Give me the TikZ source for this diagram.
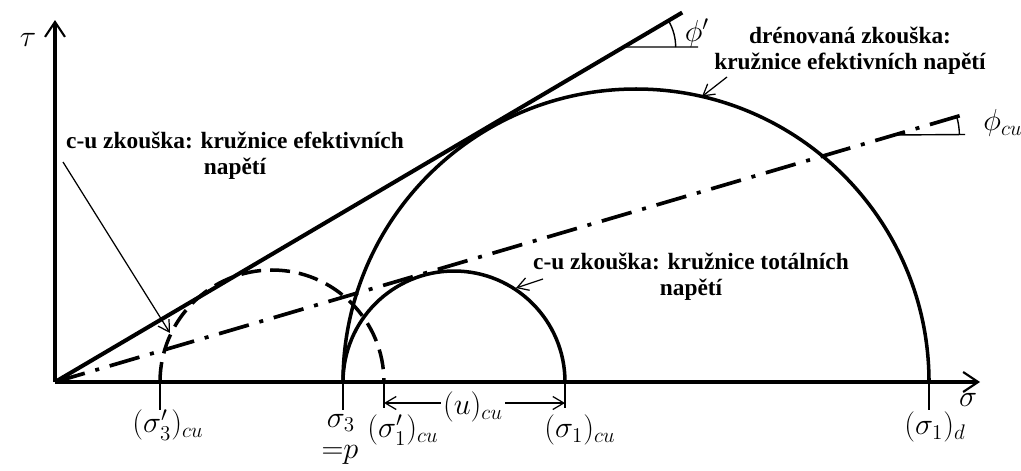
\documentclass[tikz,border=0pt]{standalone}
\usepackage{fontspec}
\setmainfont{Liberation Serif}
\usepackage{amsmath}
\usepackage{tikz}
\usetikzlibrary{arrows.meta, positioning}

\begin{document}
\begin{tikzpicture}[
  note/.style={align=center, font=\fontsize{13.3}{15}\selectfont\bfseries},
  sym/.style={font=\fontsize{17}{19}\selectfont, inner sep=1pt},
  circ/.style={line width=2pt},
  axisline/.style={line width=2.3pt, -{Straight Barb[length=3mm, width=4mm, line width=1.2pt]}},
  thinarrow/.style={line width=0.7pt, ->},
  tick/.style={line width=0.8pt},
  dashdot/.style={line width=2.1pt, dash pattern=on 0.62cm off 0.22cm on 0.08cm off 0.22cm},
  >={Straight Barb[length=2.2mm, width=2.6mm]}
]
\useasboundingbox (-1.1,-1.76) rectangle (19.32,7.64);

% axes
\coordinate (O) at (0,0);
\coordinate (tauend) at (0,7.24);
\coordinate (sigend) at (18.5,0);
\draw[axisline] (O) -- (tauend);
\draw[axisline] (O) -- (sigend);
\node[sym] (tau) at (-0.54,6.84) {$\tau$};
\node[sym] (sig) at (18.26,-0.36) {$\sigma$};

% points on the sigma axis
\coordinate (s3c) at (2.1,0);
\coordinate (s3)  at (5.76,0);
\coordinate (s1c) at (6.58,0);
\coordinate (s1t) at (10.2,0);
\coordinate (s1d) at (17.48,0);

% Mohr circles
\draw[circ] (s3) arc[start angle=180, end angle=0, radius=5.86];
\draw[circ] (s3) arc[start angle=180, end angle=0, radius=2.22];
\draw[circ, dash pattern=on 0.4cm off 0.18cm] (s3c) arc[start angle=180, end angle=0, radius=2.24];

% envelopes
\coordinate (pv) at (30.5:13.2);
\coordinate (pend) at (30.5:14.56);
\draw[line width=2.3pt] (O) -- (pend);
\coordinate (cv) at (16.4:17.5);
\coordinate (cend) at (16.4:18.98);
\draw[dashdot] (O) -- (cend);

% angles
\coordinate (pvh) at (12.86,6.7);
\draw[tick] (pv) -- (pvh);
\draw[tick] (pv) ++(0:1.04) arc[start angle=0, end angle=30.5, radius=1.04];
\node[sym] (phip) at (12.84,6.98) {$\phi'$};
\coordinate (cvh) at (18.2,4.95);
\draw[tick] (cv) -- (cvh);
\draw[tick] (cv) ++(0:1.3) arc[start angle=0, end angle=16.4, radius=1.3];
\node[sym] (phicu) at (18.96,5.18) {$\phi_{cu}$};

% ticks and labels
\foreach \p/\l in {s3c/-0.56, s3/-0.56, s1c/-0.52, s1t/-0.52, s1d/-0.56}
  \draw[tick] (\p) -- ++(0,\l);
\node[sym] (ls3c) at (2.26,-0.86) {$(\sigma_3')_{cu}$};
\node[sym] (ls3) at (5.72,-0.82) {$\sigma_3$};
\node[sym] (leqp) at (5.7,-1.46) {${=}p$};
\node[sym] (ls1c) at (6.96,-0.96) {$(\sigma_1')_{cu}$};
\node[sym] (ls1t) at (10.5,-0.96) {$(\sigma_1)_{cu}$};
\node[sym] (ls1d) at (17.6,-0.9) {$(\sigma_1)_d$};

% pore pressure
\node[sym] (lu) at (8.36,-0.5) {$(u)_{cu}$};
\coordinate (ua) at (6.58,-0.42);
\coordinate (ub) at (10.2,-0.42);
\draw[thinarrow] (lu.west |- ua) -- (ua);
\draw[thinarrow] (lu.east |- ub) -- (ub);

% notes
\node[note] (drained) at (15.9,6.62) {drénovaná zkouška:\\kružnice efektivních napětí};
\node[note] (cueff) at (3.6,4.52) {c-u zkouška: kružnice efektivních\\napětí};
\node[note] (cutot) at (12.72,2.11) {c-u zkouška: kružnice totálních\\napětí};

\coordinate (da) at (13.44,6.1);
\coordinate (db) at (12.94,5.71);
\draw[thinarrow] (da) -- (db);
\coordinate (ea) at (0.16,4.4);
\coordinate (eb) at (2.3,0.98);
\draw[thinarrow] (ea) -- (eb);
\coordinate (ta) at (9.76,2.06);
\coordinate (tb) at (9.22,1.88);
\draw[thinarrow] (ta) -- (tb);
\end{tikzpicture}
\end{document}
